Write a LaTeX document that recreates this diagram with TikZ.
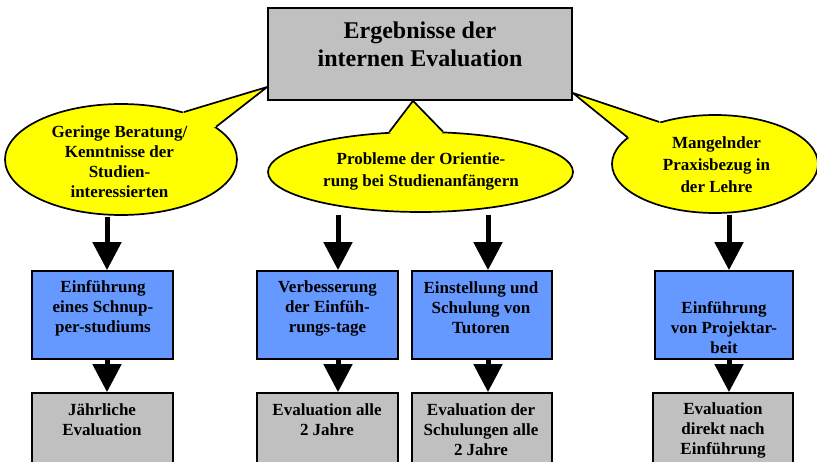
\documentclass[tikz,border=0pt]{standalone}
\usepackage{fontspec}
\setmainfont{Liberation Serif}
\usetikzlibrary{arrows.meta,shapes.geometric}
\definecolor{bubblefill}{HTML}{FFFF00}
\definecolor{measurefill}{HTML}{6699FF}
\definecolor{panelfill}{HTML}{C0C0C0}
\begin{document}
\begin{tikzpicture}[x=1pt,y=-1pt,
  box/.style={rectangle, draw=black, line width=1.7pt, inner sep=0pt},
  titlebox/.style={box, fill=panelfill, minimum width=304pt, minimum height=92pt},
  measure/.style={box, fill=measurefill, minimum height=88pt},
  review/.style={box, fill=panelfill, minimum height=82pt},
  bubbleshape/.style={ellipse, draw=black, fill=bubblefill, line width=1.7pt, inner sep=0pt},
  tail/.style={draw=black, line width=1.7pt, line join=round},
  txt/.style={font=\bfseries\fontsize{17}{20}\selectfont, align=center, inner sep=0pt},
  bigarrow/.style={line width=5pt, -{Triangle[width=28pt,length=28pt]}},
]
\useasboundingbox (0,0) rectangle (817,462);
\clip (0,0) rectangle (817,462);

% central heading
\node[titlebox] (title) at (420,54) {};
\coordinate (tipL) at ([yshift=-33pt]title.west);
\coordinate (tipM) at ([xshift=-7pt]title.south);
\coordinate (tipR) at ([yshift=-39pt]title.east);

% speech bubbles with their tails
\node[bubbleshape, minimum width=232pt, minimum height=111pt] (lb) at (121,159.5) {};
\fill[bubblefill] (tipL) -- (lb.37) -- (lb.center) -- (lb.19) -- cycle;
\draw[tail] (lb.37) -- (tipL) -- (lb.19);

\node[bubbleshape, minimum width=305pt, minimum height=80pt] (mb) at (420.5,172) {};
\fill[bubblefill] (tipM) -- (mb.128) -- (mb.center) -- (mb.61) -- cycle;
\draw[tail] (mb.128) -- (tipM) -- (mb.61);

\node[bubbleshape, minimum width=206pt, minimum height=98pt] (rb) at (715,164) {};
\fill[bubblefill] (tipR) -- (rb.143) -- (rb.center) -- (rb.163) -- cycle;
\draw[tail] (rb.143) -- (tipR) -- (rb.163);

% redraw the heading on top of the tail tips
\node[titlebox] (title) at (420,54) {};
\node[txt, font=\bfseries\fontsize{24}{28}\selectfont] (titletext) at (420,44) {Ergebnisse der\\internen Evaluation};

\node[txt] (lbtext) at (119.5,162) {Geringe Beratung/\\Kenntnisse der\\Studien-\\interessierten};
\node[txt, font=\bfseries\fontsize{17}{22}\selectfont] (mbtext) at (421,171) {Probleme der Orientie-\\rung bei Studienanfängern};
\node[txt, font=\bfseries\fontsize{17}{22}\selectfont] (rbtext) at (716.5,165) {Mangelnder\\Praxisbezug in\\der Lehre};

% measures
\node[measure, minimum width=141pt] (b1) at (102.5,315) {};
\node[measure, minimum width=141pt] (b2) at (327.5,315) {};
\node[measure, minimum width=140pt] (b3) at (482,315) {};
\node[measure, minimum width=138pt] (b4) at (724,315) {};
\node[txt] (b1text) at (103,308) {Einführung\\eines Schnup-\\per-studiums};
\node[txt] (b2text) at (327.5,308) {Verbesserung\\der Einfüh-\\rungs-tage};
\node[txt] (b3text) at (481,308) {Einstellung und\\Schulung von\\Tutoren};
\node[txt] (b4text) at (724,328) {Einführung\\von Projektar-\\beit};

% evaluation schedules
\node[review, minimum width=141pt] (g1) at (102.5,434) {};
\node[review, minimum width=141pt] (g2) at (327.5,434) {};
\node[review, minimum width=140pt] (g3) at (482,434) {};
\node[review, minimum width=140pt] (g4) at (723,434) {};
\node[txt] (g1text) at (102,420) {Jährliche\\Evaluation};
\node[txt] (g2text) at (327,420) {Evaluation alle\\2 Jahre};
\node[txt] (g3text) at (481,430) {Evaluation der\\Schulungen alle\\2 Jahre};
\node[txt] (g4text) at (723,430) {Evaluation\\direkt nach\\Einführung};

% arrow columns
\coordinate (c1) at (107,0);
\coordinate (c2) at (338,0);
\coordinate (c3) at (488,0);
\coordinate (c4) at (729,0);

\draw[bigarrow] ([yshift=-1pt]c1 |- lb.south) -- (c1 |- b1.north);
\draw[bigarrow] ([yshift=-2pt]c2 |- mb.south) -- (c2 |- b2.north);
\draw[bigarrow] ([yshift=-2pt]c3 |- mb.south) -- (c3 |- b3.north);
\draw[bigarrow] ([yshift=-1pt]c4 |- rb.south) -- (c4 |- b4.north);

\draw[bigarrow] (c1 |- b1.south) -- (c1 |- g1.north);
\draw[bigarrow] (c2 |- b2.south) -- (c2 |- g2.north);
\draw[bigarrow] (c3 |- b3.south) -- (c3 |- g3.north);
\draw[bigarrow] (c4 |- b4.south) -- (c4 |- g4.north);
\end{tikzpicture}
\end{document}
